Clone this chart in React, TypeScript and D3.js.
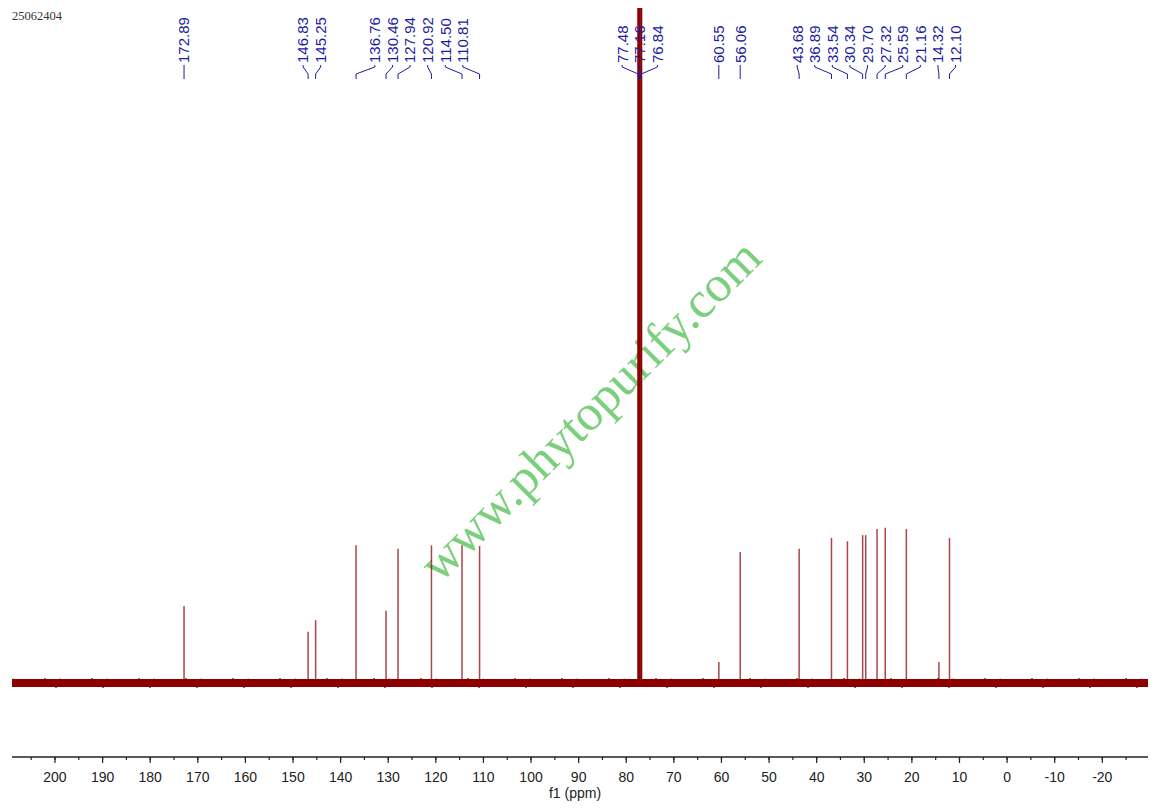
import React from "react";
import * as d3 from "d3";

// ---- data ----
const experimentId = "25062404";
const axisTitle = "f1 (ppm)";
const watermark = "www.phytopurify.com";
// chemical shifts (ppm) of the picked peaks
const peakShifts = [
  172.89, 146.83, 145.25, 136.76, 130.46, 127.94, 120.92, 114.5, 110.81,
  77.48, 77.16, 76.84, 60.55, 56.06, 43.68, 36.89, 33.54, 30.34, 29.7,
  27.32, 25.59, 21.16, 14.32, 12.1,
];
// relative intensities (100 = top of plot)
const peakIntensities = [
  11.4, 7.6, 9.3, 20.4, 10.7, 19.9, 20.4, 20.4, 20.3,
  120, 150, 120, 3.1, 19.4, 19.9, 21.5, 21.0, 21.9, 21.9,
  22.8, 23.0, 22.8, 3.1, 21.5,
];
// which label block each peak label belongs to
const labelBlocks = [
  0, 1, 1, 2, 2, 2, 2, 2, 2,
  3, 3, 3, 4, 5, 6, 6, 6, 6, 6,
  6, 6, 6, 6, 6,
];
const majorTicks = d3.range(200, -21, -10);
const minorTicks = d3.range(205, -26, -5);

// ---- layout ----
const W = 1155;
const H = 811;
const X0 = 12;
const X1 = 1148;
const BASE_Y = 683;
const TOP_Y = 8;
const AXIS_Y = 757;
const LABEL_BOTTOM = 63;
const LABEL_SPACING = 17.6;
// fixed texture tile (not data) giving the baseline its grainy look
const TEXTURE =
  "0,10 1,7 2,12 3,8 4,11 5,6 6,12 7,9 8,13 9,7 10,11 11,8 12,13 13,9 14,12 15,6 16,11 17,9 18,12 19,7 20,13 21,8 22,10 23,7 24,14 25,8 26,11 27,6 28,12 29,9 30,13 31,7 32,11 33,5 34,12 35,8 36,10 37,7 38,13 39,9 40,12 41,6 42,11 43,8 44,15 45,9 46,11 47,10";

export default function App() {
  const x = d3.scaleLinear().domain([209.03, -29.6]).range([X0, X1]);
  const y = d3.scaleLinear().domain([0, 100]).range([BASE_Y, TOP_Y]);

  const peakX = peakShifts.map((p) => x(p));

  // labels: spread evenly within each block, centred on the mean peak position
  const labelX = new Array(peakX.length).fill(0);
  const blocks = d3.group(peakX.map((_, i) => i), (i) => labelBlocks[i]);
  for (const members of blocks.values()) {
    const sorted = members.slice().sort((a, b) => peakX[a] - peakX[b]);
    const n = sorted.length;
    const center = d3.mean(sorted, (i) => peakX[i]) as number;
    const start = center - ((n - 1) / 2) * LABEL_SPACING;
    sorted.forEach((id, k) => (labelX[id] = start + k * LABEL_SPACING));
  }

  const blue = "#1c1ca0";
  const red = "#8b0000";

  return (
    <svg
      width={W}
      height={H}
      style={{ position: "absolute", left: 0, top: 0, background: "#fff" }}
    >
      <defs>
        <clipPath id="plotclip">
          <rect x={0} y={TOP_Y} width={W} height={AXIS_Y - TOP_Y} />
        </clipPath>
        <pattern
          id="noise"
          x={X0}
          y={BASE_Y - 10}
          width={47}
          height={20}
          patternUnits="userSpaceOnUse"
        >
          <polyline points={TEXTURE} fill="none" stroke={red} strokeWidth={1.2} />
        </pattern>
      </defs>

      <text
        x={12}
        y={20}
        fontFamily="'Liberation Serif', 'DejaVu Serif', serif"
        fontSize={12.5}
        fill="#333"
      >
        {experimentId}
      </text>

      {/* watermark */}
      <text
        transform="translate(590,410) rotate(-45)"
        textAnchor="middle"
        dominantBaseline="central"
        fontFamily="'Liberation Serif', 'DejaVu Serif', serif"
        fontSize={51}
        fill="#7ccf7c"
      >
        {watermark}
      </text>

      {/* baseline noise band */}
      <g>
        <rect x={X0} y={BASE_Y - 10} width={X1 - X0} height={20} fill="url(#noise)" />
        <rect x={X0} y={BASE_Y - 4} width={X1 - X0} height={8} fill={red} />
      </g>

      {/* peaks */}
      <g clipPath="url(#plotclip)">
        {peakShifts.map((p, i) => (
          <line
            key={i}
            x1={x(p)}
            x2={x(p)}
            y1={BASE_Y}
            y2={y(peakIntensities[i])}
            stroke={red}
            strokeWidth={peakIntensities[i] > 100 ? 2 : 1.5}
            opacity={peakIntensities[i] > 100 ? 1 : 0.72}
          />
        ))}
      </g>

      {/* peak labels */}
      <g fontFamily="'Liberation Sans', Arial, sans-serif" fontSize={15} fill={blue}>
        {peakShifts.map((p, i) => (
          <g key={i}>
            <text
              transform={`translate(${labelX[i]},${LABEL_BOTTOM}) rotate(-90)`}
              dy="0.36em"
            >
              {p.toFixed(2)}
            </text>
            <path
              d={`M${labelX[i]},65 V67 L${peakX[i]},74 V79`}
              fill="none"
              stroke={blue}
              strokeWidth={1}
            />
          </g>
        ))}
      </g>

      {/* x axis */}
      <g fontFamily="'Liberation Sans', Arial, sans-serif" fontSize={14} fill="#222">
        <line x1={X0} x2={X1} y1={AXIS_Y} y2={AXIS_Y} stroke="#222" strokeWidth={1.3} />
        {minorTicks.map((t) => (
          <line key={"m" + t} x1={x(t)} x2={x(t)} y1={AXIS_Y} y2={AXIS_Y + 3} stroke="#222" strokeWidth={1.2} />
        ))}
        {majorTicks.map((t) => (
          <g key={"M" + t}>
            <line x1={x(t)} x2={x(t)} y1={AXIS_Y} y2={AXIS_Y + 6} stroke="#222" strokeWidth={1.2} />
            <text x={x(t)} y={782} textAnchor="middle">
              {String(t)}
            </text>
          </g>
        ))}
        <text x={575} y={798} textAnchor="middle">
          {axisTitle}
        </text>
      </g>
    </svg>
  );
}
